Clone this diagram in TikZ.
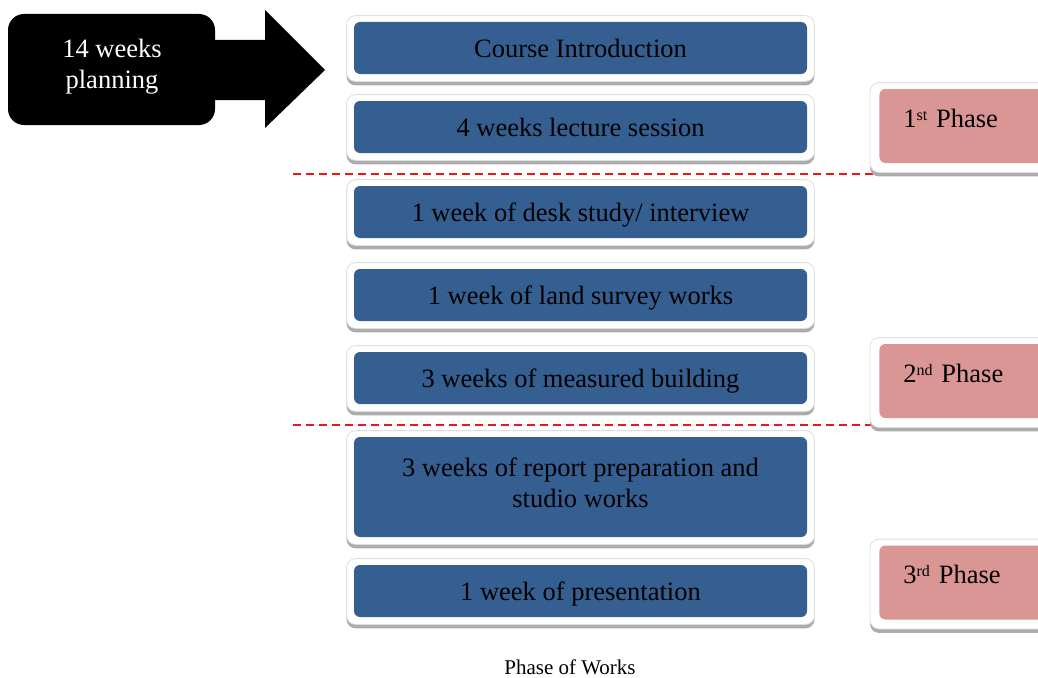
\documentclass[tikz,border=0pt]{standalone}
\usepackage{fontspec}
\setmainfont{Liberation Serif}
\usepackage{xcolor}
\usepackage{tikz}
\usetikzlibrary{shapes, arrows.meta, backgrounds}
\definecolor{stageblue}{RGB}{54, 95, 145}
\definecolor{phasepink}{RGB}{217, 150, 148}
\definecolor{dashred}{RGB}{240, 20, 20}

\newcommand{\ordsup}[1]{\raisebox{0.55ex}{\fontsize{16}{16}\selectfont #1}}

\tikzset{
  stage/.style={fill=stageblue, rounded corners=6pt, minimum width=453pt, minimum height=52pt,
    inner sep=0pt, align=center, text height=18pt, text depth=0pt,
    font=\fontsize{26.5}{31}\selectfont},
  phase/.style={fill=phasepink, rounded corners=6pt, anchor=west, minimum height=74pt,
    text width=140pt, align=left, inner xsep=24pt, inner ysep=0pt,
    text height=18pt, text depth=16pt, font=\fontsize{26.5}{31}\selectfont},
  frame/.style={fill=white, draw=gray!25, line width=0.8pt, rounded corners=9pt},
  shade/.style={fill=gray!65, rounded corners=9pt},
  split/.style={dashred, line width=1.8pt, dash pattern=on 8pt off 5pt}
}

\begin{document}
\begin{tikzpicture}[x=1pt, y=-1pt, thick]
    \useasboundingbox (0,0) rectangle (1038,677);

    % Planning arrow
    \fill[black, rounded corners=16pt] (8,14) rectangle (215,125);
    \fill[black] (200,40) -- (265,40) -- (265,10) -- (325,70) -- (265,128) -- (265,100) -- (200,100) -- cycle;
    \node[white, align=center, font=\fontsize{26.5}{31}\selectfont] (plan) at (112,66.5) {14 weeks\\planning};

    % Stages
    \node[stage] (intro)    at (580.5,48)  {Course Introduction};
    \node[stage] (lecture)  at (580.5,127) {4 weeks lecture session};
    \node[stage] (desk)     at (580.5,212) {1 week of desk study/ interview};
    \node[stage] (survey)   at (580.5,295) {1 week of land survey works};
    \node[stage] (measured) at (580.5,378) {3 weeks of measured building};
    \node[stage, minimum height=100pt, text height=, text depth=] (report) at (580.5,487) {\raisebox{-4.6pt}[0pt][0pt]{\begin{tabular}{@{}c@{}}3 weeks of report preparation and\\studio works\end{tabular}}};
    \node[stage] (present)  at (580.5,591) {1 week of presentation};

    % Phases
    \node[phase] (phaseA) at (879,126)   {1\ordsup{st} Phase};
    \node[phase] (phaseB) at (879,381)   {2\ordsup{nd} Phase};
    \node[phase] (phaseC) at (879,582.5) {3\ordsup{rd} Phase};

    \node[font=\fontsize{21}{25}\selectfont] (caption) at (570,667) {Phase of Works};

    \begin{scope}[on background layer]
        % phase borders
        \draw[split] (293,174) -- (1038,174);
        \draw[split] (293,425) -- (1038,425);
        \foreach \n in {intro, lecture, desk, survey, measured, report, present} {
            \fill[shade] ([shift={(-7,-3)}]\n.north west) rectangle ([shift={(7,11)}]\n.south east);
            \filldraw[frame] ([shift={(-7,-6)}]\n.north west) rectangle ([shift={(7,7)}]\n.south east);
        }
        \foreach \n in {phaseA, phaseB, phaseC} {
            \fill[shade] ([shift={(-9,-3)}]\n.north west) rectangle ([shift={(-20,13)}]\n.south east);
            \filldraw[frame] ([shift={(-9,-6)}]\n.north west) rectangle ([shift={(-20,9)}]\n.south east);
        }
    \end{scope}
\end{tikzpicture}
\end{document}
